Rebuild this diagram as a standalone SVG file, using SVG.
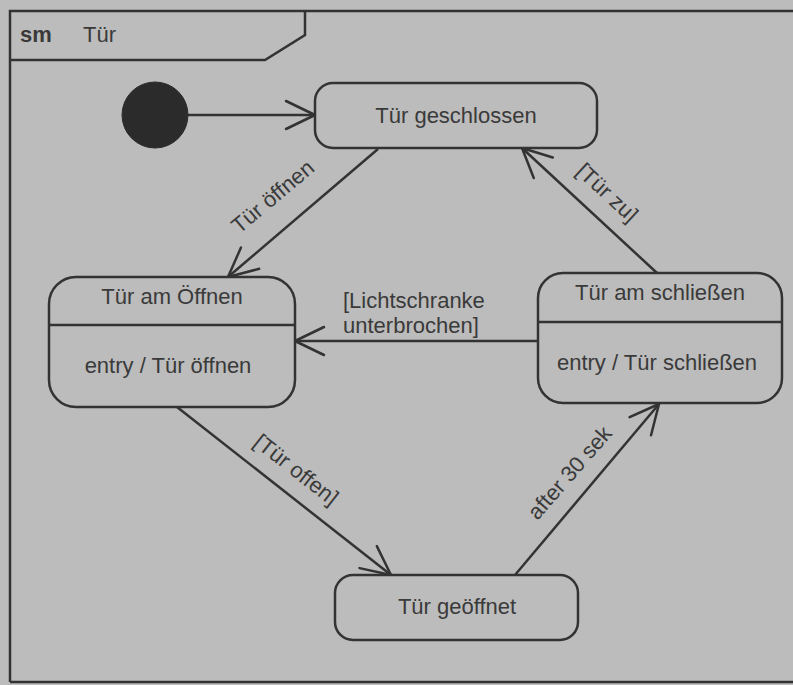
<svg xmlns="http://www.w3.org/2000/svg" width="793" height="685" viewBox="0 0 793 685">
  <defs>
    <style>
      .line { fill: none; stroke: #333333; stroke-width: 2.5; }
      .state { fill: #bcbcbc; stroke: #333333; stroke-width: 2.5; }
      .lbl { font-family: "Liberation Sans", Arial, sans-serif; font-size: 22px; fill: #3a3a3a; }
      .mid { text-anchor: middle; }
    </style>
    <marker id="open" viewBox="-32 -16 34 32" refX="0" refY="0" markerWidth="34" markerHeight="32" markerUnits="userSpaceOnUse" orient="auto">
      <path d="M-29,-14 L0,0 L-29,14" fill="none" stroke="#333333" stroke-width="2.5" stroke-linecap="round" stroke-linejoin="round"/>
    </marker>
  </defs>

  <!-- page background -->
  <rect x="0" y="0" width="793" height="685" fill="#bcbcbc"/>

  <!-- state machine frame with name tab -->
  <g id="frame">
    <path class="line" d="M10,682 V11 H800 M10,682 H800"/>
    <path class="line" d="M10,60 H265 L305,35 V11"/>
    <text class="lbl" x="20" y="42" font-weight="bold">sm</text>
    <text class="lbl" x="83" y="42">Tür</text>
  </g>

  <!-- transitions -->
  <g id="connectors">
    <line class="line" x1="188" y1="115" x2="315" y2="115" marker-end="url(#open)"/>
    <line class="line" x1="378" y1="149" x2="228" y2="277" marker-end="url(#open)"/>
    <line class="line" x1="657" y1="273" x2="522" y2="148" marker-end="url(#open)"/>
    <line class="line" x1="538" y1="341" x2="295" y2="341" marker-end="url(#open)"/>
    <line class="line" x1="177" y1="407" x2="391" y2="575" marker-end="url(#open)"/>
    <line class="line" x1="515" y1="575" x2="659" y2="404" marker-end="url(#open)"/>

    <text class="lbl mid" transform="translate(273,197) rotate(-40)" y="7">Tür öffnen</text>
    <text class="lbl mid" transform="translate(607,193) rotate(42.8)" y="7">[Tür zu]</text>
    <text class="lbl" x="343" y="308">[Lichtschranke</text>
    <text class="lbl" x="343" y="333">unterbrochen]</text>
    <text class="lbl mid" transform="translate(296,470) rotate(38)" y="7">[Tür offen]</text>
    <text class="lbl mid" transform="translate(570,473) rotate(-49)" y="7">after 30 sek</text>
  </g>

  <g id="initial">
    <circle cx="155" cy="115" r="33" fill="#2b2b2b" stroke="#2b2b2b" stroke-width="1"/>
  </g>

  <g id="tuer-geschlossen">
    <rect class="state" x="315" y="83" width="282" height="65" rx="18" ry="18"/>
    <text class="lbl mid" x="456" y="123">Tür geschlossen</text>
  </g>

  <g id="tuer-am-oeffnen">
    <rect class="state" x="49" y="277" width="246" height="130" rx="27" ry="27"/>
    <line class="line" x1="49" y1="325" x2="295" y2="325"/>
    <text class="lbl mid" x="172" y="304">Tür am Öffnen</text>
    <text class="lbl mid" x="168" y="373">entry / Tür öffnen</text>
  </g>

  <g id="tuer-am-schliessen">
    <rect class="state" x="538" y="273" width="244" height="130" rx="25" ry="25"/>
    <line class="line" x1="538" y1="322" x2="782" y2="322"/>
    <text class="lbl mid" x="660" y="300">Tür am schließen</text>
    <text class="lbl mid" x="657" y="370">entry / Tür schließen</text>
  </g>

  <g id="tuer-geoeffnet">
    <rect class="state" x="335" y="575" width="243" height="65" rx="18" ry="18"/>
    <text class="lbl mid" x="457" y="614">Tür geöffnet</text>
  </g>
</svg>
